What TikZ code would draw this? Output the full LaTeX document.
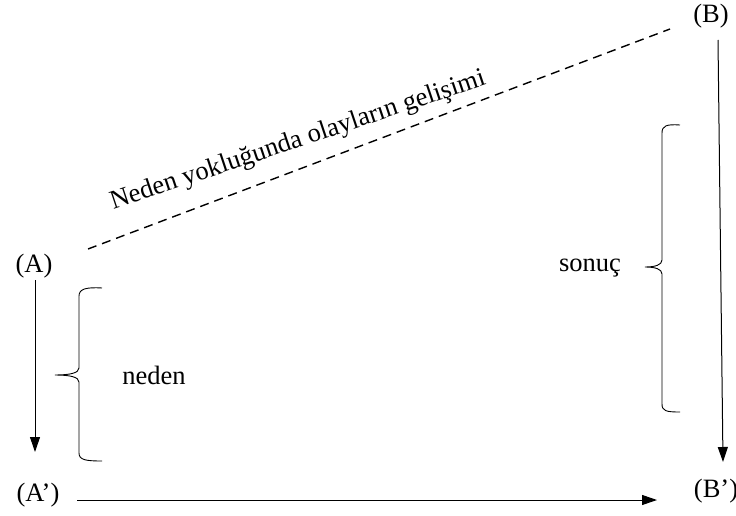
\documentclass[tikz,border=0pt]{standalone}
\usepackage{fontspec}
\setmainfont{Liberation Serif}
\usetikzlibrary{arrows.meta}
\begin{document}
\begin{tikzpicture}[x=1pt,y=-1pt,
  lbl/.style={font=\fontsize{26.5}{30}\selectfont, inner sep=0pt},
  arr/.style={line width=1pt,-{Triangle[length=15pt,width=10pt]}},
  brc/.style={line width=0.9pt},
  dsh/.style={line width=1.4pt,dash pattern=on 9pt off 6pt}]
\useasboundingbox (0,0) rectangle (736,516);
% labels
\node[lbl] (A) at (34,266) {(A)};
\node[lbl] (Ap) at (38,495) {(A’)};
\node[lbl] (B) at (711,16) {(B)};
\node[lbl] (Bp) at (716,491) {(B’)};
\node[lbl] (neden) at (154,375) {neden};
\node[lbl] (sonuc) at (590,268) {sonuç};
\node[lbl, rotate=18.5] (title) at (298,141) {Neden yokluğunda olayların gelişimi};
% coordinates
\coordinate (atop) at (35,280);
\coordinate (atip) at (35,452);
\coordinate (btop) at (718,40);
\coordinate (btip) at (723,462);
\coordinate (hstart) at (77,500);
\coordinate (hend) at (657,500);
\coordinate (dA) at (88,249);
\coordinate (dB) at (670,29);
% arrows
\draw[arr] (atop) -- (atip);
\draw[arr] (btop) -- (btip);
\draw[arr] (hstart) -- (hend);
\draw[dsh] (dA) -- (dB);
% brace neden
\draw[brc] (102,288) .. controls (86,287) and (79,289) .. (79,296) -- (79,368)
  .. controls (79,373) and (70,375) .. (55,375)
  .. controls (70,375) and (79,377) .. (79,382) -- (79,453)
  .. controls (79,460) and (86,461) .. (102,461);
% brace sonuc
\draw[brc] (680,125) .. controls (666,124) and (662,126) .. (662,133) -- (662,260)
  .. controls (662,265) and (655,267) .. (645,267)
  .. controls (655,267) and (662,269) .. (662,274) -- (662,404)
  .. controls (662,411) and (666,412) .. (680,412);
\end{tikzpicture}
\end{document}
